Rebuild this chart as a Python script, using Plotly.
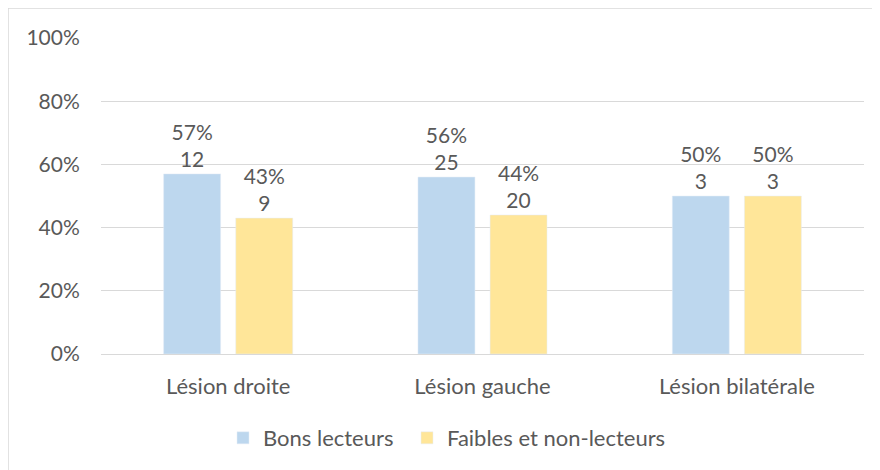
import plotly.graph_objects as go

categories = ['Lésion droite', 'Lésion gauche', 'Lésion bilatérale']
bons_pct = [0.57, 0.56, 0.50]
bons_n = [12, 25, 3]
faibles_pct = [0.43, 0.44, 0.50]
faibles_n = [9, 20, 3]

TEXT = '#595959'
FONT = 'Lato, Open Sans, sans-serif'

# page body has an 8px margin, so the figure sits at (8, 8)
W, H = 880, 470
ML, MR, MT, MB = 93, 24, 30, 124
pw, ph = W - ML - MR, H - MT - MB


def labels(pct, n):
    return [f'{round(p * 100)}%<br>{k}' for p, k in zip(pct, n)]


fig = go.Figure()
fig.add_trace(go.Bar(
    name='Bons lecteurs', x=categories, y=bons_pct,
    marker_color='#BDD7EE',
    text=labels(bons_pct, bons_n), textposition='outside',
    textfont=dict(color=TEXT, size=21, family=FONT),
    cliponaxis=False, legend='legend',
))
fig.add_trace(go.Bar(
    name='Faibles et non-lecteurs', x=categories, y=faibles_pct,
    marker_color='#FFE699',
    text=labels(faibles_pct, faibles_n), textposition='outside',
    textfont=dict(color=TEXT, size=21, family=FONT),
    cliponaxis=False, legend='legend2',
))

leg = dict(orientation='h', xanchor='left', y=-84 / ph, yanchor='middle',
           font=dict(size=22, color=TEXT), bgcolor='rgba(0,0,0,0)')

fig.update_layout(
    width=W, height=H,
    margin=dict(l=ML, r=MR, t=MT, b=MB, autoexpand=False),
    paper_bgcolor='white', plot_bgcolor='white',
    font=dict(family=FONT, color=TEXT, size=21),
    barmode='group', bargap=0.433, bargroupgap=0.21,
    showlegend=True,
    legend=dict(leg, x=(263 - 40 - 101) / pw),
    legend2=dict(leg, x=(447 - 40 - 101) / pw),
    xaxis=dict(showgrid=False, linecolor='#D9D9D9', linewidth=1, ticks='outside',
               ticklen=13, tickcolor='rgba(0,0,0,0)',
               tickfont=dict(size=22, color=TEXT)),
    yaxis=dict(range=[0, 1], tickformat='.0%', dtick=0.2, gridcolor='#D9D9D9',
               gridwidth=1, zeroline=False, showline=False, ticks='outside',
               ticklen=16, tickcolor='rgba(0,0,0,0)',
               tickfont=dict(size=21, color=TEXT)),
    shapes=[dict(type='rect', xref='paper', yref='paper',
                 x0=-ML / pw, x1=(W + 10 - ML) / pw,
                 y0=-(MB + 10) / ph, y1=(ph + MT) / ph,
                 line=dict(color='#D9D9D9', width=1.5), fillcolor='rgba(0,0,0,0)',
                 layer='below')],
)

fig.write_html('out.html')
